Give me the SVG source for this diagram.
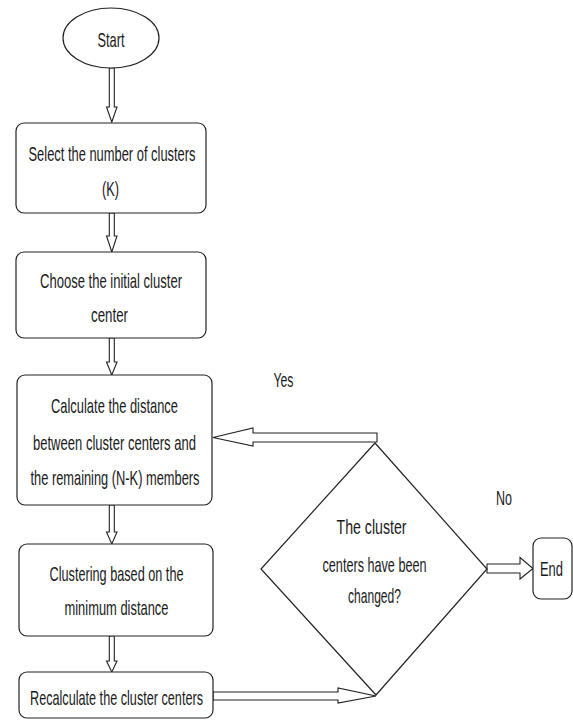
<svg xmlns="http://www.w3.org/2000/svg" width="573" height="720" viewBox="0 0 573 720">
<style>
.n{fill:#fff;stroke:#222;stroke-width:1.2}
.c{fill:#fff;stroke:#222;stroke-width:1.1;stroke-linejoin:miter}
text{font-family:"Liberation Sans Narrow","Liberation Sans",Arial,sans-serif;font-size:21px;fill:#1a1a1a;text-anchor:middle}
</style>
<rect width="573" height="720" fill="#fff"/>
<g id="connectors">
<path class="c" d="M109.3,68 L109.3,107 L106.5,107 L111.8,122 L117,107 L114.3,107 L114.3,68 Z"/>
<path class="c" d="M109.3,213 L109.3,236 L106.5,236 L111.8,252 L117,236 L114.3,236 L114.3,213 Z"/>
<path class="c" d="M109.3,338 L109.3,362 L106.5,362 L111.8,375 L117,362 L114.3,362 L114.3,338 Z"/>
<path class="c" d="M109.3,505 L109.3,532 L106.5,532 L111.8,544 L117,532 L114.3,532 L114.3,505 Z"/>
<path class="c" d="M109.3,636 L109.3,661 L106.5,661 L111.8,672 L117,661 L114.3,661 L114.3,636 Z"/>
<path class="c" d="M377,433 L253,433 L253,428 L213,437.5 L253,446 L253,442 L377,442 Z"/>
<path class="c" d="M213,692 L338,692 L338,688 L376,696 L338,703 L338,700 L213,700 Z"/>
<path class="c" d="M487,564 L520,564 L520,557.5 L533,568.5 L520,579 L520,573 L487,573 Z"/>
</g>
<g id="start">
<ellipse class="n" cx="111" cy="38" rx="48" ry="30"/>
<text x="111" y="47" textLength="27" lengthAdjust="spacingAndGlyphs">Start</text>
</g>
<g id="select">
<rect class="n" x="16" y="123" width="190" height="90" rx="8"/>
<text x="112" y="161" textLength="167" lengthAdjust="spacingAndGlyphs">Select the number of clusters</text>
<text x="110.5" y="196" textLength="17" lengthAdjust="spacingAndGlyphs">(K)</text>
</g>
<g id="choose">
<rect class="n" x="16" y="252" width="190" height="86" rx="8"/>
<text x="111" y="288" textLength="142" lengthAdjust="spacingAndGlyphs">Choose the initial cluster</text>
<text x="109.5" y="322" textLength="37" lengthAdjust="spacingAndGlyphs">center</text>
</g>
<g id="calculate">
<rect class="n" x="17" y="375" width="195" height="130" rx="8"/>
<text x="114.5" y="413" textLength="127" lengthAdjust="spacingAndGlyphs">Calculate the distance</text>
<text x="114.5" y="450" textLength="163" lengthAdjust="spacingAndGlyphs">between cluster centers and</text>
<text x="115" y="485" textLength="169" lengthAdjust="spacingAndGlyphs">the remaining (N-K) members</text>
</g>
<g id="clustering">
<rect class="n" x="19" y="544" width="194" height="92" rx="8"/>
<text x="116.5" y="581" textLength="134" lengthAdjust="spacingAndGlyphs">Clustering based on the</text>
<text x="116.5" y="615" textLength="104" lengthAdjust="spacingAndGlyphs">minimum distance</text>
</g>
<g id="recalculate">
<rect class="n" x="19" y="672" width="194" height="46" rx="8"/>
<text x="116.5" y="705" textLength="173" lengthAdjust="spacingAndGlyphs">Recalculate the cluster centers</text>
</g>
<g id="decision">
<path class="n" d="M375,443 L487,569 L376,695 L261,569 Z"/>
<text x="371.5" y="534" textLength="70" lengthAdjust="spacingAndGlyphs">The cluster</text>
<text x="374.5" y="572" textLength="104" lengthAdjust="spacingAndGlyphs">centers have been</text>
<text x="374.5" y="603" textLength="53" lengthAdjust="spacingAndGlyphs">changed?</text>
</g>
<g id="end">
<rect class="n" x="533" y="538" width="39" height="61" rx="8"/>
<text x="551.5" y="576" textLength="23" lengthAdjust="spacingAndGlyphs">End</text>
</g>
<g id="labels">
<text x="283.5" y="387" textLength="20" lengthAdjust="spacingAndGlyphs">Yes</text>
<text x="504" y="505" textLength="16" lengthAdjust="spacingAndGlyphs">No</text>
</g>
</svg>
